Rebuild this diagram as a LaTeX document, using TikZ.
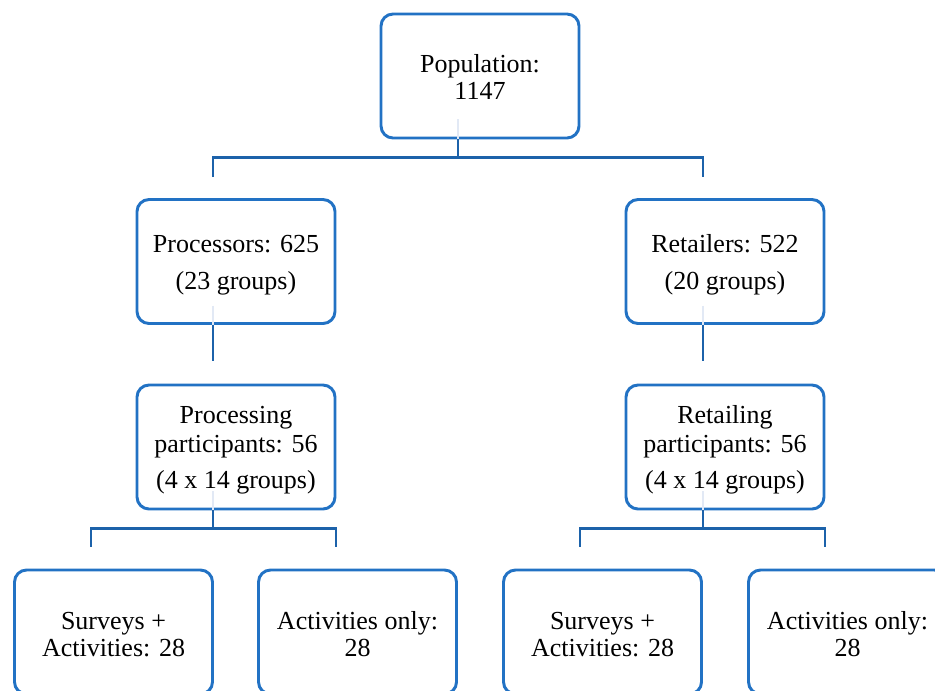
\documentclass[tikz,border=0pt]{standalone}
\usepackage{fontspec}
\setmainfont{Liberation Serif}
\usetikzlibrary{calc}
\definecolor{boxblue}{RGB}{34,114,196}
\definecolor{lineblue}{RGB}{28,98,170}
\definecolor{faintblue}{RGB}{226,233,245}
\newcommand{\topstrut}[1]{\rule{0pt}{#1}}
\begin{document}
\begin{tikzpicture}[x=0.75pt,y=-0.75pt,
  box/.style={draw=boxblue, line width=2.2pt, rounded corners=9pt,
    minimum width=148.5pt, minimum height=93pt, align=center,
    font=\fontsize{19.5}{20}\selectfont, fill=white, inner sep=0pt},
  conn/.style={draw=lineblue, line width=2.2pt},
  ghost/.style={draw=faintblue, line width=2pt}]
\useasboundingbox (0,0) rectangle (935,690);

% nodes
\node[box] (pop)   at (480,76)    {\topstrut{15pt}Population:\\1147};
\node[box] (proc)  at (236,261.5) {\topstrut{18pt}Processors: 625\\[8pt](23 groups)};
\node[box] (ret)   at (725,261.5) {\topstrut{18pt}Retailers: 522\\[8pt](20 groups)};
\node[box] (procp) at (236,447)   {\topstrut{18pt}Processing\\[1.5pt]participants: 56\\[7pt](4 x 14 groups)};
\node[box] (retp)  at (725,447)   {\topstrut{18pt}Retailing\\[1.5pt]participants: 56\\[7pt](4 x 14 groups)};
\node[box] (s1)    at (113.5,632) {\topstrut{17pt}Surveys +\\Activities: 28};
\node[box] (a1)    at (357.5,632) {\topstrut{17pt}Activities only:\\28};
\node[box] (s2)    at (602.5,632) {\topstrut{17pt}Surveys +\\Activities: 28};
\node[box] (a2)    at (847.5,632) {\topstrut{17pt}Activities only:\\28};

% faint connector stubs inside boxes
\draw[ghost] ($(pop.south)+(-22,-20)$) -- ($(pop.south)+(-22,0)$);
\draw[ghost] ($(proc.south)+(-23,-19)$) -- ($(proc.south)+(-23,0)$);
\draw[ghost] ($(ret.south)+(-22,-19)$) -- ($(ret.south)+(-22,0)$);
\draw[ghost] ($(procp.south)+(-23,-19)$) -- ($(procp.south)+(-23,0)$);
\draw[ghost] ($(retp.south)+(-22,-19)$) -- ($(retp.south)+(-22,0)$);

% level 1 -> 2
\draw[conn] ($(pop.south)+(-22,0)$) -- ($(pop.south)+(-22,18)$) coordinate (h1);
\draw[conn] ($(proc.north)+(-23,-21)$) |- (h1) -| ($(ret.north)+(-22,-21)$);

% level 2 -> 3
\draw[conn] ($(proc.south)+(-23,0)$) -- ($(proc.south)+(-23,36)$) coordinate (e1);
\draw[conn] ($(ret.south)+(-22,0)$) -- ($(ret.south)+(-22,36)$) coordinate (e2);

% level 3 -> 4
\draw[conn] ($(procp.south)+(-23,0)$) -- ($(procp.south)+(-23,18)$) coordinate (h2);
\draw[conn] ($(s1.north)+(-22.5,-22)$) |- (h2) -| ($(a1.north)+(-21.5,-22)$);
\draw[conn] ($(retp.south)+(-22,0)$) -- ($(retp.south)+(-22,18)$) coordinate (h3);
\draw[conn] ($(s2.north)+(-22.5,-22)$) |- (h3) -| ($(a2.north)+(-22.5,-22)$);
\end{tikzpicture}
\end{document}
